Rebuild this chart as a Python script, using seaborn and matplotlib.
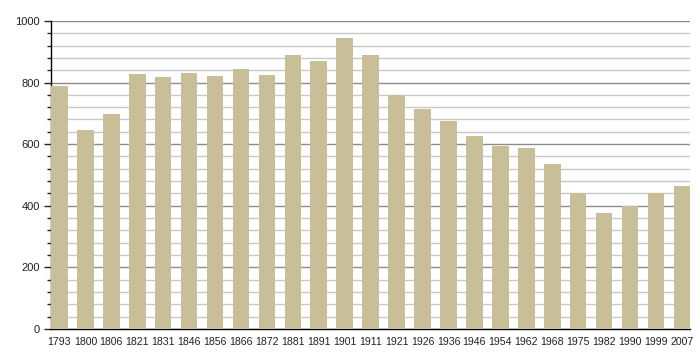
import matplotlib
matplotlib.use("Agg")
import matplotlib.pyplot as plt
import seaborn as sns
import pandas as pd
from matplotlib.ticker import MultipleLocator

years = ['1793', '1800', '1806', '1821', '1831', '1846', '1856', '1866', '1872',
         '1881', '1891', '1901', '1911', '1921', '1926', '1936', '1946', '1954',
         '1962', '1968', '1975', '1982', '1990', '1999', '2007']
population = [790, 647, 699, 828, 819, 832, 822, 845, 825,
              890, 870, 945, 890, 759, 715, 676, 625, 593,
              587, 535, 440, 375, 400, 443, 463]

df = pd.DataFrame({'annee': years, 'pop': population})

sns.set_style('white')
plt.rcParams['font.family'] = ['Liberation Sans', 'DejaVu Sans']

fig = plt.figure(figsize=(7, 3.6), dpi=100)
ax = fig.add_axes([0.073, 0.086, 0.913, 0.856])

sns.barplot(data=df, x='annee', y='pop', color='#c8bf98', saturation=1,
            width=0.64, linewidth=0, edgecolor='none', ax=ax, zorder=3)

n = len(years)
ax.set_xlim(-0.32, n - 1 + 0.32)
ax.set_ylim(0, 1000)
ax.yaxis.set_major_locator(MultipleLocator(200))
ax.yaxis.set_minor_locator(MultipleLocator(40))
ax.grid(which='major', axis='y', color='#8c8c8c', linewidth=1, linestyle='-', zorder=0)
ax.grid(which='minor', axis='y', color='#c8c8c8', linewidth=1, linestyle='-', zorder=0)
ax.set_axisbelow(True)

for s in ['top', 'right']:
    ax.spines[s].set_visible(False)
ax.spines['left'].set_color('black')
ax.spines['bottom'].set_color('black')
ax.spines['left'].set_linewidth(1)
ax.spines['bottom'].set_linewidth(1)

ax.tick_params(axis='y', which='major', left=True, length=5, width=1,
               labelsize=8, pad=3, labelcolor='#222222')
ax.tick_params(axis='y', which='minor', left=True, length=3, width=1)
ax.tick_params(axis='x', bottom=False, labelsize=7.6, pad=2, labelcolor='#222222')
ax.set_xlabel('')
ax.set_ylabel('')

fig.savefig('out.png', dpi=100)
